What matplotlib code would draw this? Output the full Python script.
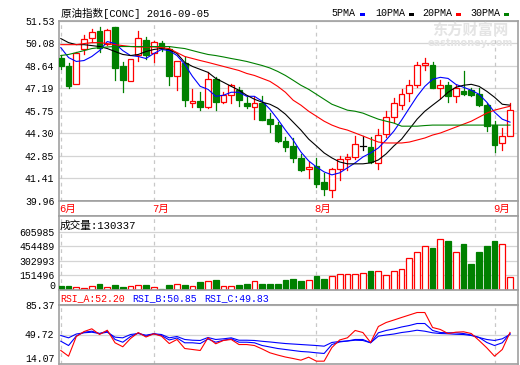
# -*- coding: utf-8 -*-
import matplotlib
matplotlib.use('Agg')
import matplotlib.pyplot as plt
from matplotlib.patches import Rectangle

plt.rcParams['font.family'] = ['Liberation Mono', 'Noto Sans CJK SC']

title = '原油指数[CONC] 2016-09-05'
month_labels = ['6月', '7月', '8月', '9月']
month_index = [0, 12, 33, 56]

price_ticks = [39.96, 41.41, 42.85, 44.30, 45.75, 47.19, 48.64, 50.08, 51.53]
vol_ticks = [0, 151496, 302993, 454489, 605985]
rsi_ticks = [14.07, 49.72, 85.37]

opens = [49.12, 48.59, 47.48, 49.72, 50.42, 50.89, 50.04, 51.10, 48.65, 47.65,
         49.34, 50.32, 49.47, 50.10, 49.72, 47.95, 48.80, 46.27, 46.35, 45.99,
         47.80, 46.31, 46.74, 47.06, 46.27, 45.99, 46.27, 45.20, 44.82, 43.80,
         43.48, 42.69, 42.01, 42.22, 41.13, 40.66, 42.01, 42.65, 42.79, 43.50,
         43.39, 42.37, 44.24, 45.31, 46.14, 46.91, 47.42, 48.70, 48.70, 47.20,
         47.38, 46.69, 46.99, 47.06, 46.84, 46.10, 44.82, 43.65, 44.13]
highs = [49.34, 48.80, 49.52, 50.64, 51.00, 51.15, 51.00, 51.15, 48.86, 49.10,
         50.89, 50.51, 50.22, 50.25, 49.82, 48.94, 49.18, 47.12, 46.95, 48.23,
         47.91, 46.95, 47.48, 47.27, 46.63, 46.63, 46.67, 45.57, 44.99, 44.07,
         43.97, 42.95, 42.47, 42.69, 41.73, 42.09, 42.86, 42.95, 44.13, 44.13,
         44.07, 44.54, 45.73, 46.53, 47.16, 47.69, 48.86, 49.12, 48.86, 47.69,
         47.59, 47.38, 48.27, 47.20, 47.20, 46.27, 45.07, 44.61, 46.21]
lows = [48.44, 47.23, 47.47, 49.40, 50.14, 49.55, 49.98, 47.69, 46.95, 47.63,
        48.97, 49.08, 48.86, 49.61, 47.38, 47.06, 46.05, 45.99, 45.78, 45.92,
        45.78, 46.21, 46.27, 46.05, 45.92, 45.20, 45.14, 44.39, 43.71, 43.16,
        42.47, 41.88, 41.45, 40.87, 40.34, 40.17, 41.30, 41.94, 42.65, 43.22,
        42.37, 42.01, 44.07, 44.99, 45.84, 46.35, 47.27, 48.33, 47.20, 46.53,
        46.31, 46.31, 46.74, 46.69, 46.05, 44.43, 43.07, 43.22, 44.13]
closes = [48.61, 47.33, 49.47, 50.36, 50.83, 49.76, 50.94, 48.48, 47.74, 49.08,
          50.42, 49.34, 50.19, 49.76, 47.95, 48.91, 46.42, 46.35, 45.99, 47.80,
          46.31, 46.74, 47.38, 46.42, 46.05, 46.27, 45.14, 44.88, 43.80, 43.43,
          42.69, 41.94, 42.15, 41.03, 40.73, 42.01, 42.65, 42.79, 43.58, 43.50,
          42.43, 44.18, 45.31, 46.21, 46.84, 47.42, 48.70, 48.83, 47.20, 47.38,
          46.69, 47.20, 46.84, 46.78, 46.14, 44.77, 43.54, 44.13, 45.82]

ma5 = [49.80, 49.16, 48.91, 48.97, 49.23, 49.61, 50.19, 50.06, 49.61, 49.29,
       49.23, 49.10, 49.42, 49.68, 49.61, 49.29, 48.72, 47.95, 47.31, 47.12,
       46.67, 46.74, 46.93, 46.93, 46.67, 46.67, 46.35, 45.84, 45.20, 44.50,
       43.86, 43.09, 42.52, 42.13, 41.81, 41.62, 41.75, 42.07, 42.39, 42.77,
       43.03, 43.35, 43.86, 44.43, 45.14, 45.91, 46.67, 47.31, 47.76, 47.89,
       47.82, 47.44, 47.25, 47.06, 46.80, 46.29, 45.65, 45.20, 45.01]
ma10 = [50.38, 50.12, 49.99, 49.99, 49.93, 49.87, 49.74, 49.55, 49.36, 49.29,
        49.36, 49.55, 49.68, 49.74, 49.68, 49.42, 48.85, 48.59, 48.40, 48.21,
        47.82, 47.57, 47.31, 47.06, 46.74, 46.48, 46.29, 46.16, 45.91, 45.52,
        45.01, 44.50, 43.92, 43.48, 43.03, 42.71, 42.45, 42.33, 42.33, 42.33,
        42.39, 42.58, 42.97, 43.48, 43.92, 44.56, 45.20, 45.71, 46.10, 46.48,
        46.93, 47.25, 47.38, 47.44, 47.31, 46.99, 46.61, 46.16, 46.10]
ma20 = [49.99, 49.99, 49.99, 50.06, 50.12, 50.12, 50.06, 49.99, 49.93, 49.87,
        49.84, 49.84, 49.84, 49.80, 49.74, 49.48, 49.23, 49.10, 48.97, 48.85,
        48.72, 48.59, 48.46, 48.33, 48.14, 48.01, 47.82, 47.63, 47.31, 46.93,
        46.42, 46.10, 45.71, 45.39, 45.07, 44.82, 44.63, 44.50, 44.31, 44.12,
        43.92, 43.73, 43.67, 43.67, 43.67, 43.73, 43.86, 43.99, 44.18, 44.31,
        44.50, 44.69, 44.88, 45.07, 45.33, 45.59, 45.78, 45.91, 46.03]
ma30 = [49.29, 49.36, 49.48, 49.61, 49.74, 49.80, 49.84, 49.87, 49.87, 49.87,
        49.87, 49.87, 49.87, 49.87, 49.87, 49.80, 49.74, 49.61, 49.48, 49.36,
        49.29, 49.20, 49.10, 49.01, 48.91, 48.78, 48.65, 48.49, 48.27, 48.01,
        47.70, 47.38, 47.12, 46.80, 46.48, 46.16, 45.97, 45.78, 45.71, 45.59,
        45.39, 45.20, 45.07, 44.95, 44.75, 44.75, 44.75, 44.79, 44.82, 44.82,
        44.82, 44.82, 44.82, 44.82, 44.82, 44.82, 44.82, 44.82, 44.82]

volumes = [31800, 31800, 24400, 18000, 31800, 60400, 24400, 49800, 28600, 39200,
           49800, 49800, 24400, 7400, 49800, 60400, 42400, 35000, 74200, 84800,
           95400, 39200, 39200, 42400, 60400, 84800, 60400, 60400, 60400, 95400,
           113400, 84800, 95400, 137800, 113400, 145200, 166400, 166400, 166400, 177000,
           190800, 190800, 155800, 198200, 219400, 336000, 399600, 463200, 434600, 537400,
           508800, 392200, 477000, 265000, 392200, 455800, 508800, 477000, 130337]

rsi_a = [30.4, 23.5, 47.3, 53.3, 56.6, 49.7, 54.9, 39.7, 34.9, 44.9,
         52.1, 46.7, 50.6, 47.7, 38.8, 43.7, 32.8, 31.6, 30.4, 45.7,
         38.5, 42.5, 43.7, 37.6, 37.6, 36.4, 32.2, 27.6, 24.9, 22.5,
         20.7, 18.7, 22.3, 17.5, 17.5, 34.0, 43.1, 45.7, 54.6, 52.1,
         40.1, 59.4, 64.2, 67.2, 70.3, 73.3, 76.3, 76.3, 58.2, 55.8,
         50.9, 52.5, 53.0, 50.9, 42.5, 33.6, 23.5, 31.6, 52.20]
rsi_b = [41.6, 36.4, 47.9, 52.5, 53.7, 50.9, 53.7, 43.7, 40.4, 47.3,
         51.5, 47.7, 50.6, 48.5, 43.1, 45.5, 39.7, 39.7, 38.8, 44.3,
         40.4, 42.8, 44.5, 40.4, 40.4, 39.7, 36.4, 34.6, 32.8, 31.6,
         30.4, 29.2, 28.6, 27.6, 26.8, 37.6, 40.7, 41.9, 43.7, 43.7,
         39.7, 51.8, 54.6, 56.4, 58.8, 60.6, 63.0, 63.0, 54.6, 52.1,
         51.8, 51.8, 50.9, 49.1, 46.1, 40.1, 36.4, 39.7, 50.85]
rsi_c = [48.5, 45.7, 50.3, 51.8, 52.5, 50.9, 52.5, 46.5, 45.7, 49.7,
         50.9, 48.9, 50.6, 49.7, 45.7, 47.3, 43.7, 42.8, 42.5, 46.1,
         43.7, 44.5, 45.7, 42.8, 42.8, 42.5, 41.5, 40.7, 39.7, 38.8,
         38.2, 37.6, 37.0, 36.4, 35.6, 40.1, 41.3, 41.9, 42.8, 42.5,
         39.7, 47.7, 49.1, 50.3, 52.1, 53.3, 54.9, 53.7, 51.8, 50.9,
         50.6, 50.0, 49.7, 48.5, 46.1, 43.7, 42.5, 44.5, 49.83]

W, H = 520.0, 365.0
UP = '#ff0000'
DOWN = '#008000'
BLUE = '#0000ff'
GRID = '#d4d4d4'
FRAME = '#a0a0a0'
VLINE = '#c8c8c8'
FS = 7.1


def rect(left, top, right, bottom):
    return [left / W, 1 - bottom / H, (right - left) / W, (bottom - top) / H]


def ftext(fig, px, py, s, **kw):
    kw.setdefault('fontsize', FS)
    kw.setdefault('va', 'center')
    return fig.text(px / W, 1 - py / H, s, **kw)


def frame(ax):
    for s in ax.spines.values():
        s.set_color(FRAME)
        s.set_linewidth(1.2)


def style_axis(ax, ticks, labels, ylim):
    ax.set_xlim(-0.3, len(closes) + 0.03)
    ax.set_ylim(ylim)
    ax.set_xticks([])
    ax.set_yticks(ticks)
    ax.set_yticklabels(labels, fontsize=FS)
    ax.tick_params(axis='y', length=0, pad=3)
    for t in ticks:
        ax.axhline(t, color=GRID, lw=0.9, zorder=0)
    for i in month_index:
        ax.axvline(i, color=VLINE, lw=0.9, ls=(0, (3, 3)), zorder=0)
    frame(ax)


def plot_candles(ax):
    w = 0.74
    for i in range(len(closes)):
        o, h, l, c = opens[i], highs[i], lows[i], closes[i]
        if c == o:
            ax.plot([i, i], [l, h], color='black', lw=0.9, zorder=3)
            ax.plot([i - w / 2, i + w / 2], [c, c], color='black', lw=0.9, zorder=3)
        elif c > o:
            ax.plot([i, i], [c, h], color=UP, lw=0.9, zorder=3)
            ax.plot([i, i], [l, o], color=UP, lw=0.9, zorder=3)
            ax.add_patch(Rectangle((i - w / 2, o), w, c - o, facecolor='white',
                                   edgecolor=UP, lw=0.9, zorder=3))
        else:
            ax.plot([i, i], [l, h], color=DOWN, lw=0.9, zorder=3)
            ax.add_patch(Rectangle((i - w / 2, c), w, o - c, facecolor=DOWN,
                                   edgecolor=DOWN, lw=0.9, zorder=3))


def main():
    fig = plt.figure(figsize=(5.2, 3.65), dpi=100)
    x = list(range(len(closes)))

    # price panel
    ax = fig.add_axes(rect(58.5, 20.7, 518, 200.7))
    style_axis(ax, price_ticks, ['%.2f' % v for v in price_ticks],
               (price_ticks[0], price_ticks[-1]))
    plot_candles(ax)
    ax.plot(x, ma5, color=BLUE, lw=0.8, zorder=4)
    ax.plot(x, ma10, color='black', lw=0.8, zorder=4)
    ax.plot(x, ma20, color=UP, lw=0.8, zorder=4)
    ax.plot(x, ma30, color=DOWN, lw=0.8, zorder=4)

    # month band
    band = fig.add_axes(rect(58.5, 200.7, 518, 215.7))
    band.set_xlim(ax.get_xlim())
    band.set_xticks([])
    band.set_yticks([])
    frame(band)
    for lab, i in zip(month_labels, month_index):
        band.text(i - 0.2, 0.45, lab, color=UP, fontsize=FS + 0.5,
                  ha='left', va='center', transform=band.get_xaxis_transform())

    # volume panel
    vmax = vol_ticks[-1] * (289.5 - 215.7) / (289.5 - 232.0)
    av = fig.add_axes(rect(58.5, 215.7, 518, 289.5))
    style_axis(av, vol_ticks[1:], [str(v) for v in vol_ticks[1:]], (0, vmax))
    for i, v in enumerate(volumes):
        if closes[i] >= opens[i]:
            av.bar(i, v, width=0.74, facecolor='white', edgecolor=UP, lw=0.9, zorder=3)
        else:
            av.bar(i, v, width=0.74, facecolor=DOWN, edgecolor=DOWN, lw=0.9, zorder=3)
    ftext(fig, 55, 286, str(vol_ticks[0]), ha='right')
    ftext(fig, 60, 225.5, '成交量:%d' % volumes[-1], fontsize=FS + 0.6, ha='left')

    # rsi label band
    band2 = fig.add_axes(rect(58.5, 289.5, 518, 305))
    band2.set_xticks([])
    band2.set_yticks([])
    frame(band2)

    # rsi panel
    ar = fig.add_axes(rect(58.5, 305, 518, 364))
    style_axis(ar, rsi_ticks[1:], ['%.2f' % v for v in rsi_ticks[1:]],
               (rsi_ticks[0], rsi_ticks[-1]))
    ar.axhline(rsi_ticks[0], color=GRID, lw=0.9, zorder=0)
    ar.plot(x, rsi_c, color=BLUE, lw=0.8, zorder=3)
    ar.plot(x, rsi_b, color=BLUE, lw=0.8, zorder=3)
    ar.plot(x, rsi_a, color=UP, lw=0.8, zorder=4)
    ftext(fig, 55, 359.5, '%.2f' % rsi_ticks[0], ha='right')
    ftext(fig, 60, 298.5, 'RSI_A:%.2f' % rsi_a[-1], color=UP, ha='left')
    ftext(fig, 132, 298.5, 'RSI_B:%.2f' % rsi_b[-1], color=BLUE, ha='left')
    ftext(fig, 204, 298.5, 'RSI_C:%.2f' % rsi_c[-1], color=BLUE, ha='left')

    # header
    ftext(fig, 61, 13.5, title, fontsize=7.6, ha='left')
    legend = [('5PMA', BLUE, 331.5), ('10PMA', 'black', 375),
              ('20PMA', UP, 422), ('30PMA', DOWN, 470)]
    for name, col, px in legend:
        ftext(fig, px, 13.5, name, fontsize=7.2, ha='left')
        end = px + 6.0 * len(name) + 4
        fig.patches.append(Rectangle((end / W, 1 - 15.5 / H), 5 / W, 3 / H,
                                     facecolor=col, edgecolor='none',
                                     transform=fig.transFigure, figure=fig))

    # watermark
    ftext(fig, 470, 30, '东方财富网', color='#e4e4e4', fontsize=11,
          fontweight='bold', ha='center', family='Noto Sans CJK SC')
    ftext(fig, 470, 43, 'eastmoney.com', color='#e4e4e4', fontsize=7,
          fontweight='bold', ha='center', family='DejaVu Sans')

    fig.savefig('out.png', dpi=100, facecolor='white')


if __name__ == '__main__':
    main()
